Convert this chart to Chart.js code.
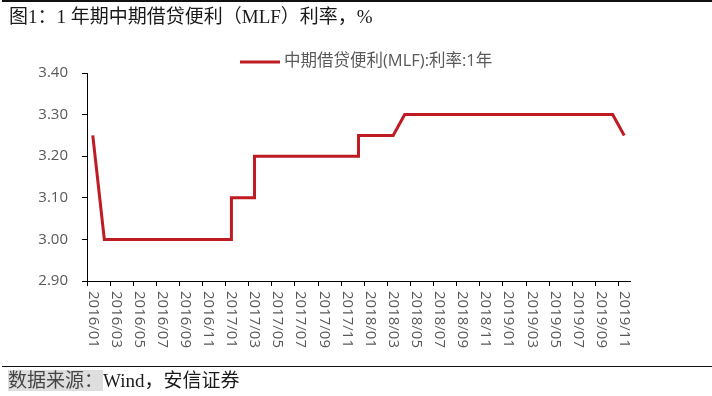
<!DOCTYPE html>
<html>
<head>
<meta charset="utf-8">
<script src="https://cdn.jsdelivr.net/npm/chart.js@4.4.1/dist/chart.umd.min.js"></script>
<style>
  html, body { margin: 0; padding: 0; background: #fff; }
  #wrap { position: relative; width: 712px; height: 396px; overflow: hidden; }
  #chart { position: absolute; left: 0; top: 0; }
  .rule { position: absolute; left: 2px; right: 0; background: #111; }
  #title, #source {
    position: absolute; left: 9px; white-space: nowrap;
    font: 19px/22px "Liberation Serif", "Noto Sans CJK SC", serif; color: #1a1a1a;
  }
  #title { top: 6px; }
  #source { top: 370px; left: 8px; }
  #source .tag { background: #dedede; color: #444; }
</style>
</head>
<body>
<div id="wrap">
  <canvas id="chart" width="712" height="396"></canvas>
  <div class="rule" style="top:0;height:2px"></div>
  <div id="title">图1：1 年期中期借贷便利（MLF）利率，%</div>
  <div class="rule" style="top:366px;height:1px"></div>
  <div id="source"><span class="tag">数据来源：</span>Wind，安信证券</div>
</div>
<script>
// 每个点所在月份（同月多个值画在同一位置，形成竖直台阶）
const periods = ['2016/01', '2016/02', '2017/01', '2017/01', '2017/03', '2017/03',
                 '2017/12', '2017/12', '2018/03', '2018/04', '2019/10', '2019/11'];
const rates = [3.25, 3.00, 3.00, 3.10, 3.10, 3.20, 3.20, 3.25, 3.25, 3.30, 3.30, 3.25];
const seriesName = '中期借贷便利(MLF):利率:1年';

const tickLabels = ['2016/01', '2016/03', '2016/05', '2016/07', '2016/09', '2016/11',
                    '2017/01', '2017/03', '2017/05', '2017/07', '2017/09', '2017/11',
                    '2018/01', '2018/03', '2018/05', '2018/07', '2018/09', '2018/11',
                    '2019/01', '2019/03', '2019/05', '2019/07', '2019/09', '2019/11'];
const yTicks = [2.90, 3.00, 3.10, 3.20, 3.30, 3.40];

const lineColor = '#BF1B22';
const textColor = '#595959';
const axisFont = '"Open Sans", "Noto Sans CJK SC", sans-serif';

// 月份 -> 自 2016/01 起的月序号（取月中）
function monthIndex(p) {
  const [y, m] = p.split('/').map(Number);
  return (y - 2016) * 12 + (m - 1);
}

const points = periods.map((p, i) => ({ x: monthIndex(p) + 0.5, y: rates[i] }));

const xLabelPlugin = {
  id: 'xLabels',
  afterDraw(chart) {
    const ctx = chart.ctx;
    const xs = chart.scales.x;
    ctx.save();
    ctx.fillStyle = textColor;
    ctx.font = '15px ' + axisFont;
    ctx.textAlign = 'left';
    ctx.textBaseline = 'middle';
    tickLabels.forEach(lbl => {
      const x = xs.getPixelForValue(monthIndex(lbl) + 0.5);
      ctx.save();
      ctx.translate(x, xs.top + 10);
      ctx.rotate(Math.PI / 2);
      ctx.fillText(lbl, 0, 0);
      ctx.restore();
    });
    ctx.restore();
  }
};

const legendPlugin = {
  id: 'lineLegend',
  afterDraw(chart) {
    const ctx = chart.ctx;
    const ds = chart.data.datasets[0];
    ctx.save();
    ctx.strokeStyle = ds.borderColor;
    ctx.lineWidth = ds.borderWidth;
    ctx.beginPath();
    ctx.moveTo(240, 62);
    ctx.lineTo(280, 62);
    ctx.stroke();
    ctx.fillStyle = textColor;
    ctx.font = '16.5px ' + axisFont;
    ctx.textAlign = 'left';
    ctx.textBaseline = 'middle';
    ctx.fillText(ds.label, 284, 61);
    ctx.restore();
  }
};

new Chart(document.getElementById('chart'), {
  type: 'line',
  data: {
    datasets: [{
      label: seriesName,
      data: points,
      borderColor: lineColor,
      backgroundColor: lineColor,
      borderWidth: 3,
      pointRadius: 0,
      tension: 0,
      fill: false,
      borderJoinStyle: 'miter'
    }]
  },
  options: {
    responsive: false,
    animation: false,
    devicePixelRatio: 1,
    layout: { padding: { top: 73, right: 82, bottom: 0, left: 0 } },
    plugins: {
      legend: { display: false },
      tooltip: { enabled: false }
    },
    scales: {
      x: {
        type: 'linear',
        min: 0,
        max: 47,
        afterBuildTicks: s => { s.ticks = tickLabels.map(l => ({ value: monthIndex(l) })); },
        afterFit: s => { s.height = 115; },
        ticks: { display: false },
        grid: { drawOnChartArea: false, drawTicks: true, tickLength: 5, color: '#000' },
        border: { display: true, color: '#000', width: 1 }
      },
      y: {
        min: 2.9,
        max: 3.4,
        afterBuildTicks: s => { s.ticks = yTicks.map(v => ({ value: v })); },
        afterFit: s => { s.width = 87; },
        ticks: {
          color: textColor,
          padding: 14,
          font: { family: axisFont, size: 15 },
          callback: v => Number(v).toFixed(2)
        },
        grid: { drawOnChartArea: false, drawTicks: true, tickLength: 5, color: '#000' },
        border: { display: true, color: '#000', width: 1 }
      }
    }
  },
  plugins: [xLabelPlugin, legendPlugin]
});
</script>
</body>
</html>
